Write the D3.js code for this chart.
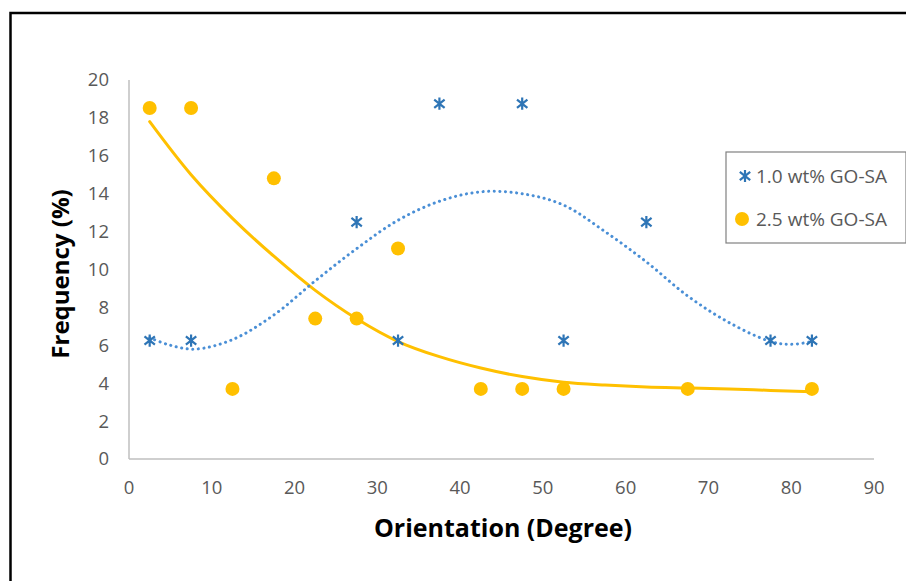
<!DOCTYPE html>
<html>
<head>
<meta charset="utf-8">
<script src="https://cdn.jsdelivr.net/npm/d3@7"></script>
<style>
  body { margin: 0; background: #fff; }
  svg { display: block; font-family: "Open Sans", Lato, sans-serif; }
</style>
</head>
<body>
<div id="chart"></div>
<script>
// orientation bins (degree centres)
const orient1 = [2.5, 7.5, 27.5, 32.5, 37.5, 47.5, 52.5, 62.5, 77.5, 82.5];
const freq1 = [6.25, 6.25, 12.5, 6.25, 18.75, 18.75, 6.25, 12.5, 6.25, 6.25];
const orient2 = [2.5, 7.5, 12.5, 17.5, 22.5, 27.5, 32.5, 42.5, 47.5, 52.5, 67.5, 82.5];
const freq2 = [18.52, 18.52, 3.70, 14.81, 7.41, 7.41, 11.11, 3.70, 3.70, 3.70, 3.70, 3.70];

// trendlines
const trend1X = [2.5, 5, 8, 12.5, 17.5, 22.5, 27.5, 32.5, 37.5, 42.5, 47.5, 52.5, 57.5, 62.5, 67.5, 72.5, 77.5, 80, 82.5];
const trend1Y = [6.4, 6.0, 5.8, 6.3, 7.6, 9.4, 11.1, 12.6, 13.6, 14.1, 14.0, 13.4, 12.0, 10.4, 8.6, 7.2, 6.2, 6.05, 6.2];
const trend2X = [2.5, 7.5, 12.5, 17.5, 22.5, 27.5, 32.5, 37.5, 42.5, 47.5, 52.5, 57.5, 62.5, 67.5, 72.5, 77.5, 82.5];
const trend2Y = [17.8, 15.0, 12.7, 10.7, 8.9, 7.4, 6.2, 5.4, 4.8, 4.35, 4.05, 3.9, 3.8, 3.75, 3.7, 3.62, 3.55];

const xTicks = [0, 10, 20, 30, 40, 50, 60, 70, 80, 90];
const yTicks = [0, 2, 4, 6, 8, 10, 12, 14, 16, 18, 20];
const seriesNames = ["1.0 wt% GO-SA", "2.5 wt% GO-SA"];

const width = 906, height = 581;
const blue = "#2E75B6", blueTrend = "#4A8FD6", orange = "#FFC000";

const svg = d3.select("#chart").append("svg")
  .attr("width", width)
  .attr("height", height);

// outer frame
svg.append("rect")
  .attr("x", 10.5).attr("y", 13)
  .attr("width", 910).attr("height", 600)
  .attr("fill", "none")
  .attr("stroke", "#000")
  .attr("stroke-width", 2.5);

const x = d3.scaleLinear().domain([0, 90]).range([129, 874]);
const y = d3.scaleLinear().domain([0, 20]).range([459, 80]);

// axes
svg.append("line")
  .attr("x1", x(0)).attr("x2", x(90))
  .attr("y1", y(0)).attr("y2", y(0))
  .attr("stroke", "#BFBFBF").attr("stroke-width", 1.5);
svg.append("line")
  .attr("x1", x(0)).attr("x2", x(0))
  .attr("y1", y(0)).attr("y2", y(20))
  .attr("stroke", "#BFBFBF").attr("stroke-width", 1.5);

svg.append("g").selectAll("text")
  .data(xTicks)
  .enter().append("text")
  .attr("x", d => x(d))
  .attr("y", 488)
  .attr("dy", "0.35em")
  .attr("text-anchor", "middle")
  .attr("font-size", "18.5px")
  .attr("fill", "#595959")
  .text(d => d);

svg.append("g").selectAll("text")
  .data(yTicks)
  .enter().append("text")
  .attr("x", 109)
  .attr("y", d => y(d))
  .attr("dy", "0.35em")
  .attr("text-anchor", "end")
  .attr("font-size", "18.5px")
  .attr("fill", "#595959")
  .text(d => d);

// axis titles
svg.append("text")
  .attr("x", 503).attr("y", 537)
  .attr("text-anchor", "middle")
  .attr("font-size", "25px")
  .attr("font-weight", "bold")
  .attr("fill", "#000")
  .text("Orientation (Degree)");

svg.append("text")
  .attr("transform", "translate(69,274) rotate(-90)")
  .attr("text-anchor", "middle")
  .attr("font-size", "24px")
  .attr("font-weight", "bold")
  .attr("fill", "#000")
  .text("Frequency (%)");

// trendlines
const line = d3.line()
  .x(d => x(d[0]))
  .y(d => y(d[1]))
  .curve(d3.curveCatmullRom);

svg.append("path")
  .datum(d3.zip(trend2X, trend2Y))
  .attr("d", line)
  .attr("fill", "none")
  .attr("stroke", orange)
  .attr("stroke-width", 3)
  .attr("stroke-linecap", "round");

svg.append("path")
  .datum(d3.zip(trend1X, trend1Y))
  .attr("d", line)
  .attr("fill", "none")
  .attr("stroke", blueTrend)
  .attr("stroke-width", 3)
  .attr("stroke-dasharray", "0.1 5.5")
  .attr("stroke-linecap", "round");

// markers
const star = d3.symbol().type({
  draw(ctx, size) {
    const r = Math.sqrt(size) / 2;
    const d = r * 0.85;
    ctx.moveTo(0, -r); ctx.lineTo(0, r);
    ctx.moveTo(-d, -d * 0.8); ctx.lineTo(d, d * 0.8);
    ctx.moveTo(-d, d * 0.8); ctx.lineTo(d, -d * 0.8);
  }
}).size(150);

svg.append("g").selectAll("path")
  .data(d3.zip(orient1, freq1))
  .enter().append("path")
  .attr("transform", d => `translate(${x(d[0])},${y(d[1])})`)
  .attr("d", star)
  .attr("fill", "none")
  .attr("stroke", blue)
  .attr("stroke-width", 2.2);

svg.append("g").selectAll("circle")
  .data(d3.zip(orient2, freq2))
  .enter().append("circle")
  .attr("cx", d => x(d[0]))
  .attr("cy", d => y(d[1]))
  .attr("r", 7)
  .attr("fill", orange);

// legend
const legend = svg.append("g");
legend.append("rect")
  .attr("x", 726).attr("y", 152)
  .attr("width", 180).attr("height", 91)
  .attr("fill", "#fff")
  .attr("stroke", "#808080")
  .attr("stroke-width", 1.2);

legend.append("path")
  .attr("transform", "translate(745,176)")
  .attr("d", star)
  .attr("fill", "none")
  .attr("stroke", blue)
  .attr("stroke-width", 2.2);
legend.append("circle")
  .attr("cx", 742).attr("cy", 219)
  .attr("r", 7)
  .attr("fill", orange);

legend.selectAll("text.lbl")
  .data(seriesNames)
  .enter().append("text")
  .attr("class", "lbl")
  .attr("x", 756)
  .attr("y", (d, i) => 176 + i * 43)
  .attr("dy", "0.35em")
  .attr("font-size", "19px")
  .attr("fill", "#595959")
  .text(d => d);
</script>
</body>
</html>
